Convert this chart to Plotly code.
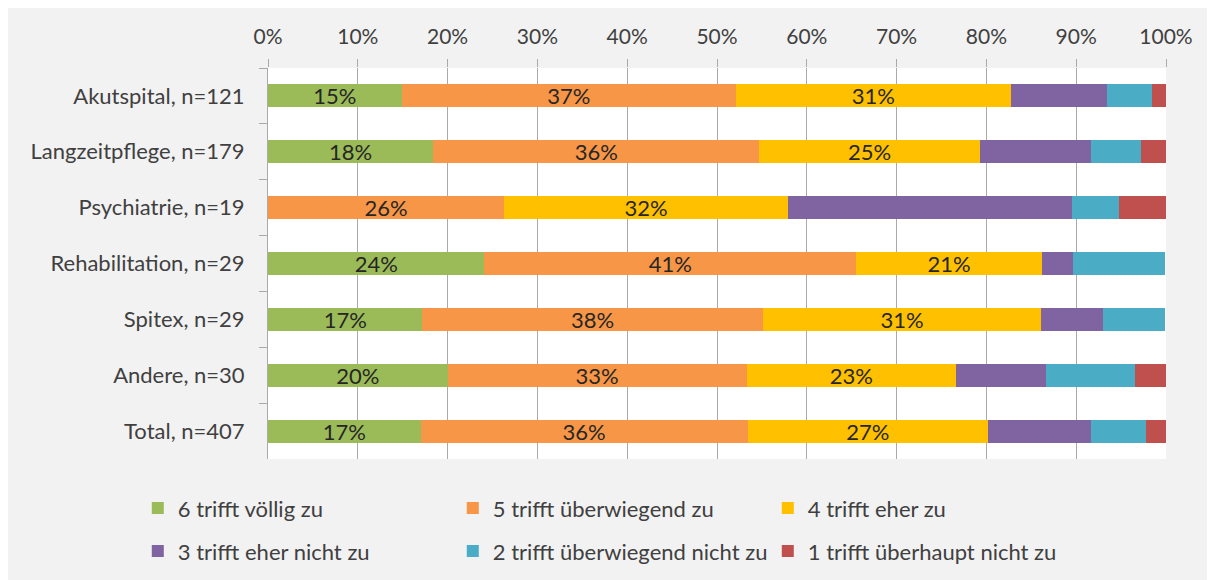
import plotly.graph_objects as go

# categories (top to bottom)
categories = ["Akutspital, n=121", "Langzeitpflege, n=179", "Psychiatrie, n=19",
              "Rehabilitation, n=29", "Spitex, n=29", "Andere, n=30", "Total, n=407"]

# shares in percent
s6 = [14.9, 18.4, 0.0, 24.1, 17.2, 20.0, 17.0]
s5 = [37.2, 36.3, 26.3, 41.4, 37.9, 33.3, 36.4]
s4 = [30.6, 24.6, 31.6, 20.7, 31.0, 23.3, 26.8]
s3 = [10.7, 12.3, 31.6, 3.4, 6.9, 10.0, 11.5]
s2 = [5.0, 5.6, 5.3, 10.3, 6.9, 10.0, 6.1]
s1 = [1.6, 2.8, 5.3, 0.0, 0.0, 3.4, 2.2]

series_names = ["6 trifft völlig zu", "5 trifft überwiegend zu", "4 trifft eher zu",
                "3 trifft eher nicht zu", "2 trifft überwiegend nicht zu", "1 trifft überhaupt nicht zu"]
colors = ["#9BBB59", "#F79646", "#FFC000", "#8064A2", "#4BACC6", "#C0504D"]
labelled = [True, True, True, False, False, False]

FONT = "Lato"
TXT = "#404040"

fig = go.Figure()
for i, (name, vals) in enumerate(zip(series_names, [s6, s5, s4, s3, s2, s1])):
    if labelled[i]:
        text = [f"{v:.0f}%" if v > 0 else "" for v in vals]
    else:
        text = None
    fig.add_trace(go.Bar(
        y=categories, x=vals, orientation="h", name=name,
        marker=dict(color=colors[i], line=dict(width=0)),
        text=text, textposition="inside" if text else "none",
        insidetextanchor="middle", textangle=0,
        textfont=dict(family=FONT, size=22, color="#262626"),
        legend="legend" if i < 3 else "legend2",
        hoverinfo="x+name",
    ))

legend_common = dict(
    orientation="h", xanchor="left", yanchor="middle",
    entrywidth=270, entrywidthmode="pixels",
    font=dict(family=FONT, size=22, color=TXT),
    bgcolor="rgba(0,0,0,0)", traceorder="normal",
)

# the page puts the figure 8px in from the top left, margins allow for that
fig.update_layout(
    barmode="stack",
    bargap=0.59,
    width=1215, height=580,
    margin=dict(l=260, r=57, t=60, b=129),
    paper_bgcolor="#f2f2f2",
    plot_bgcolor="white",
    font=dict(family=FONT, size=22, color=TXT),
    uniformtext=dict(mode="show", minsize=22),
    legend=dict(x=-0.145, y=-0.126, **legend_common),
    legend2=dict(x=-0.145, y=-0.236, **legend_common),
    xaxis=dict(
        side="top", range=[0, 100], dtick=10, ticksuffix="%",
        showgrid=True, gridcolor="#aaaaaa", gridwidth=1,
        ticks="outside", ticklen=8, tickcolor="#aaaaaa",
        showline=False, zeroline=False, fixedrange=True,
        ticklabelstandoff=7,
        tickfont=dict(family=FONT, size=21, color=TXT),
    ),
    yaxis=dict(
        autorange="reversed", showline=True, linecolor="#aaaaaa",
        ticks="outside", ticklen=8, tickcolor="#aaaaaa", tickson="boundaries",
        showgrid=False, fixedrange=True, ticklabelstandoff=18,
        tickfont=dict(family=FONT, size=22, color=TXT),
    ),
)

fig.write_html("out.html")
